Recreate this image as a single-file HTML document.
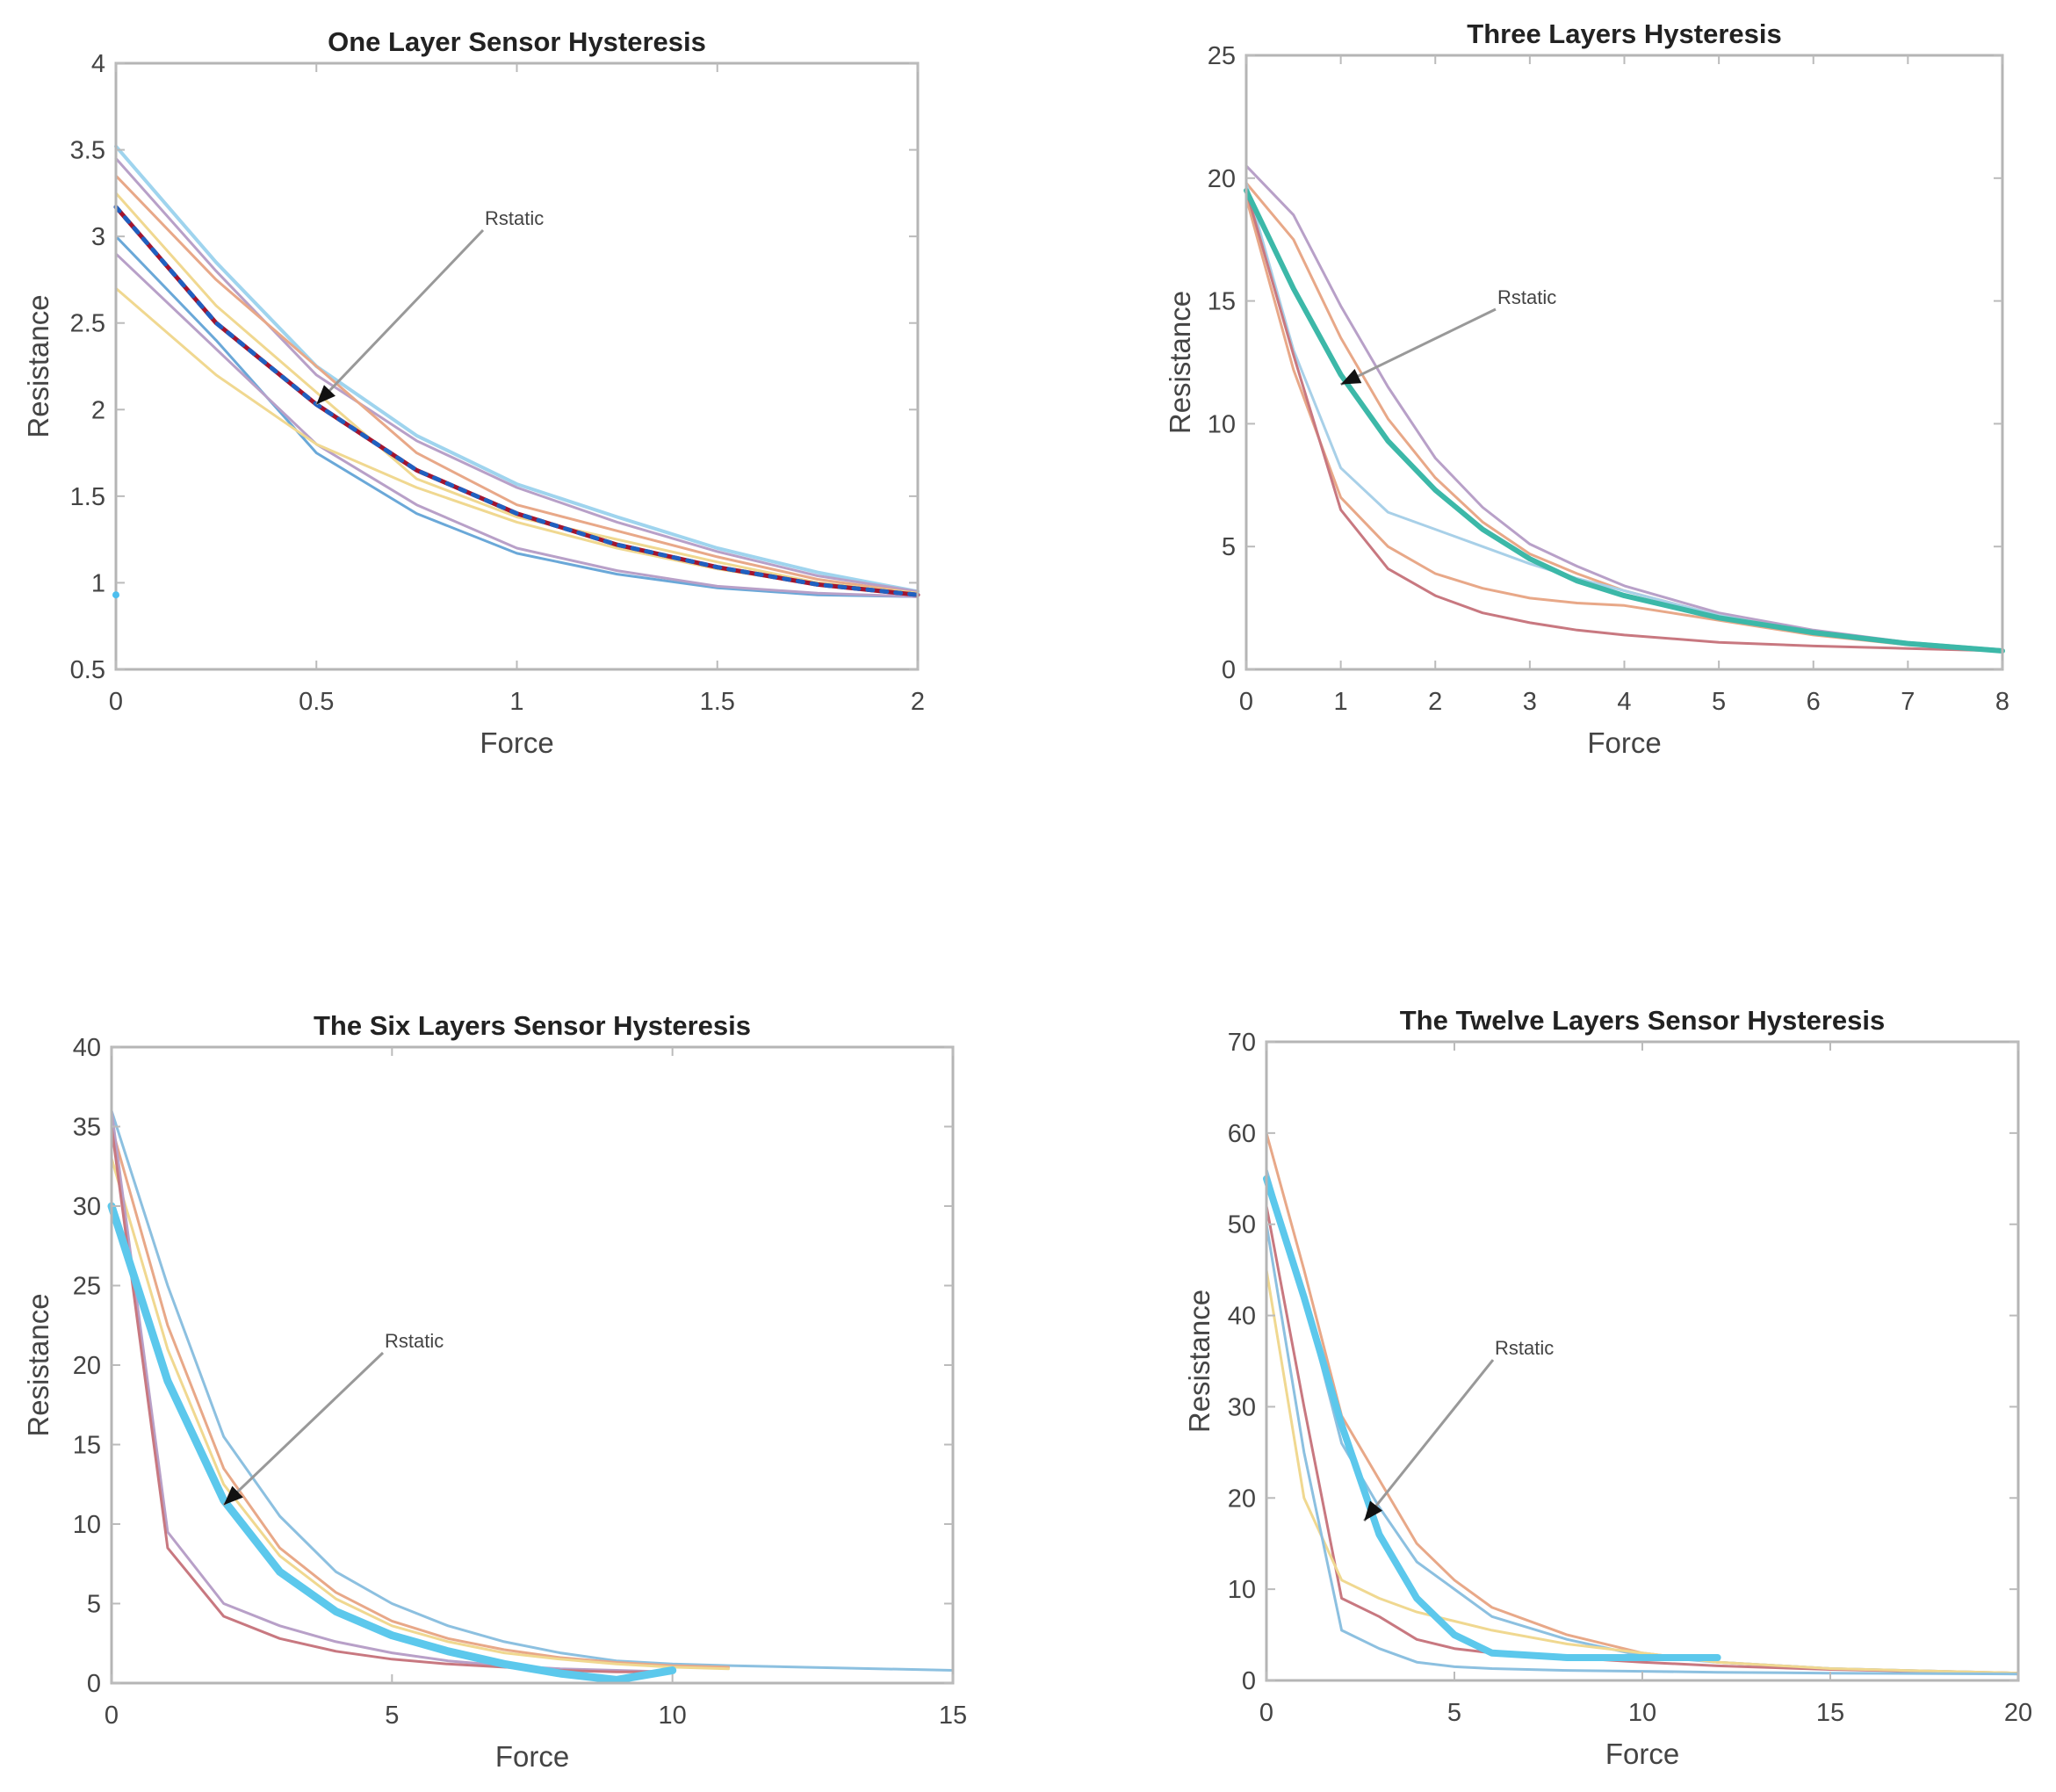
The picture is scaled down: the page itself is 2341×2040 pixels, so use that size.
<!DOCTYPE html>
<html><head><meta charset="utf-8">
<style>
html,body{margin:0;padding:0;background:#fff;}
svg{display:block;}
text{font-family:"Liberation Sans",Arial,sans-serif;}
</style></head>
<body>
<svg id="fig" width="2341" height="2040" viewBox="0 0 2341 2040" xmlns="http://www.w3.org/2000/svg"></svg>
<script>
// ---------- Panel 1 : One Layer ----------
const p1X = [0,0.25,0.5,0.75,1,1.25,1.5,1.75,2];
const p1Static = [3.17,2.5,2.03,1.65,1.4,1.22,1.09,0.99,0.93];
const p1Up1 = [3.52,2.85,2.25,1.85,1.57,1.38,1.2,1.06,0.95];
const p1Up2 = [3.45,2.8,2.2,1.82,1.55,1.35,1.18,1.04,0.95];
const p1Mid1 = [3.35,2.75,2.25,1.75,1.45,1.3,1.15,1.02,0.94];
const p1Mid2 = [3.25,2.6,2.1,1.6,1.38,1.25,1.12,1.0,0.94];
const p1Low1 = [3.0,2.4,1.75,1.4,1.17,1.05,0.97,0.93,0.92];
const p1Low2 = [2.9,2.35,1.8,1.45,1.2,1.07,0.98,0.94,0.92];
const p1Low3 = [2.7,2.2,1.8,1.55,1.35,1.2,1.08,0.99,0.93];
const p1XTicks = [0,0.5,1,1.5,2];
const p1XTickLabels = ["0","0.5","1","1.5","2"];
const p1YTicks = [0.5,1,1.5,2,2.5,3,3.5,4];
const p1YTickLabels = ["0.5","1","1.5","2","2.5","3","3.5","4"];

// ---------- Panel 2 : Three Layers ----------
const p2X = [0,0.5,1,1.5,2,2.5,3,3.5,4,5,6,7,8];
const p2Static = [19.5,15.5,12,9.3,7.3,5.7,4.5,3.6,3.0,2.1,1.5,1.05,0.75];
const p2Up1 = [20.5,18.5,14.8,11.5,8.6,6.6,5.1,4.2,3.4,2.3,1.6,1.1,0.8];
const p2Up2 = [19.8,17.5,13.5,10.2,7.8,6.0,4.7,3.9,3.2,2.2,1.5,1.05,0.8];
const p2Blue = [19.8,13,8.2,6.4,5.7,5.0,4.3,3.7,3.2,2.2,1.5,1.05,0.8];
const p2Orange = [19.2,12.2,7.0,5.0,3.9,3.3,2.9,2.7,2.6,2.0,1.4,1.0,0.8];
const p2Red = [19.5,12.8,6.5,4.1,3.0,2.3,1.9,1.6,1.4,1.1,0.95,0.85,0.75];
const p2XTicks = [0,1,2,3,4,5,6,7,8];
const p2XTickLabels = ["0","1","2","3","4","5","6","7","8"];
const p2YTicks = [0,5,10,15,20,25];
const p2YTickLabels = ["0","5","10","15","20","25"];

// ---------- Panel 3 : Six Layers ----------
const p3X = [0,1,2,3,4,5,6,7,8,9,10,11,15];
const p3Static = [30,19,11.5,7,4.5,3,2,1.2,0.6,0.2,0.8];
const p3Blue = [36,25,15.5,10.5,7,5,3.6,2.6,1.9,1.4,1.2,1.1,0.8];
const p3Orange = [35,22.5,13.5,8.5,5.7,3.9,2.8,2.1,1.6,1.3,1.1,1.0];
const p3Yellow = [33,21,12.5,8,5.3,3.6,2.6,1.9,1.5,1.2,1.0,0.9];
const p3Purple = [36,9.5,5,3.6,2.6,1.9,1.4,1.1,0.9,0.8,0.7];
const p3Red = [35,8.5,4.2,2.8,2.0,1.5,1.2,1.0,0.8,0.7,0.7];
const p3XTicks = [0,5,10,15];
const p3XTickLabels = ["0","5","10","15"];
const p3YTicks = [0,5,10,15,20,25,30,35,40];
const p3YTickLabels = ["0","5","10","15","20","25","30","35","40"];

// ---------- Panel 4 : Twelve Layers ----------
const p4X = [0,1,2,3,4,5,6,8,10,12,15,20];
const p4Static = [55,42,28,16,9,5,3,2.5,2.5,2.5];
const p4Orange = [60,45,29,22,15,11,8,5,3,2,1.3,0.8];
const p4Blue = [56,42,26,19,13,10,7,4.5,2.7,2,1.3,0.8];
const p4Purple = [52,30,9,7,4.5,3.5,3,2.5,2,1.6,1.2,0.8];
const p4Yellow = [45,20,11,9,7.5,6.5,5.5,4,3,2,1.3,0.8];
const p4Low = [50,25,5.5,3.5,2,1.5,1.3,1.1,1,0.9,0.8,0.7];
const p4XTicks = [0,5,10,15,20];
const p4XTickLabels = ["0","5","10","15","20"];
const p4YTicks = [0,10,20,30,40,50,60,70];
const p4YTickLabels = ["0","10","20","30","40","50","60","70"];

const NS = "http://www.w3.org/2000/svg";
const svg = document.getElementById('fig');
function mk(tag, attrs, parent){
  const e = document.createElementNS(NS, tag);
  for (const k in attrs) e.setAttribute(k, attrs[k]);
  (parent||svg).appendChild(e);
  return e;
}

function panel(cfg){
  const g = mk('g', {});
  
  
  const sx = v => cfg.L + (v - cfg.xmin)/(cfg.xmax - cfg.xmin)*(cfg.R - cfg.L);
  const sy = v => cfg.B - (v - cfg.ymin)/(cfg.ymax - cfg.ymin)*(cfg.B - cfg.T);
  // series
  cfg.series.forEach(s => {
    const n = Math.min(s.y.length, cfg.x.length);
    let d = '';
    for (let i=0;i<n;i++) d += (i?'L':'M') + sx(cfg.x[i]).toFixed(1) + ' ' + sy(s.y[i]).toFixed(1);
    const p = mk('path', {d:d, fill:'none', stroke:s.c, 'stroke-width':s.w, 'stroke-linejoin':'round', 'stroke-linecap':'round', opacity:s.o||1}, g);
    if (s.dash) p.setAttribute('stroke-dasharray', s.dash);
    
    
  });
  // axes box
  const box = mk('rect', {x:cfg.L, y:cfg.T, width:cfg.R-cfg.L, height:cfg.B-cfg.T, fill:'none', stroke:'#b5b5b5', 'stroke-width':3}, g);
  
  
  // x ticks
  cfg.xt.forEach((v,i) => {
    const x = sx(v);
    mk('line', {x1:x, y1:cfg.B, x2:x, y2:cfg.B-10, stroke:'#bbb', 'stroke-width':2}, g);
    mk('line', {x1:x, y1:cfg.T, x2:x, y2:cfg.T+10, stroke:'#bbb', 'stroke-width':2}, g);
    const t = mk('text', {x:x, y:cfg.B+46, 'font-size':29, fill:'#444', 'text-anchor':'middle'}, g);
    t.textContent = cfg.xtl[i];
    
    
  });
  cfg.yt.forEach((v,i) => {
    const y = sy(v);
    mk('line', {x1:cfg.L, y1:y, x2:cfg.L+10, y2:y, stroke:'#bbb', 'stroke-width':2}, g);
    mk('line', {x1:cfg.R, y1:y, x2:cfg.R-10, y2:y, stroke:'#bbb', 'stroke-width':2}, g);
    const t = mk('text', {x:cfg.L-12, y:y+10, 'font-size':29, fill:'#444', 'text-anchor':'end'}, g);
    t.textContent = cfg.ytl[i];
    
    
  });
  const tt = mk('text', {x:(cfg.L+cfg.R)/2, y:cfg.T-14, 'font-size':31, 'font-weight':'bold', fill:'#222', 'text-anchor':'middle'}, g);
  tt.textContent = cfg.title;
  
  
  const xl = mk('text', {x:(cfg.L+cfg.R)/2, y:cfg.B+95, 'font-size':33, fill:'#444', 'text-anchor':'middle'}, g);
  xl.textContent = 'Force';
  
  
  const yx = cfg.yLabelX, yy = (cfg.T+cfg.B)/2;
  const yl = mk('text', {x:yx, y:yy, 'font-size':33, fill:'#444', 'text-anchor':'middle', transform:'rotate(-90 '+yx+' '+yy+')'}, g);
  yl.textContent = 'Resistance';
  
  
  // annotation
  const a = cfg.ann;
  const ax = sx(a.tx), ay = sy(a.ty);
  const ln = mk('line', {x1:a.sx, y1:a.sy, x2:ax, y2:ay, stroke:'#999', 'stroke-width':3}, g);
  
  
  const ang = Math.atan2(ay-a.sy, ax-a.sx);
  const hl = 22, hw = 9;
  const bx = ax - hl*Math.cos(ang), by = ay - hl*Math.sin(ang);
  const px = -Math.sin(ang)*hw, py = Math.cos(ang)*hw;
  const head = mk('polygon', {points:`${ax},${ay} ${bx+px},${by+py} ${bx-px},${by-py}`, fill:'#111'}, g);
  
  
  const at = mk('text', {x:a.sx+2, y:a.sy-6, 'font-size':22, fill:'#444'}, g);
  at.textContent = 'Rstatic';
  
  
  return {sx, sy, g};
}

const c = {blue:'#6aa8d8', orange:'#e8a888', yellow:'#f0d890', purple:'#b8a0c8', green:'#9cc870', cyan:'#5cc8ec', red:'#c87880'};

const P1 = panel({name:'one-layer-chart', title:'One Layer Sensor Hysteresis', L:132,R:1045,T:72,B:762,
  xmin:0,xmax:2,ymin:0.5,ymax:4, x:p1X, xt:p1XTicks, xtl:p1XTickLabels, yt:p1YTicks, ytl:p1YTickLabels, yLabelX:55,
  ann:{sx:550,sy:262,tx:0.5,ty:2.03},
  series:[
    {y:p1Up1,c:'#9fd4ee',w:4,n:'series-upper-1'},
    {y:p1Up2,c:c.purple,w:3,n:'series-upper-2'},
    {y:p1Mid1,c:c.orange,w:3,n:'series-mid-1'},
    {y:p1Mid2,c:c.yellow,w:3,n:'series-mid-2'},
    {y:p1Low1,c:c.blue,w:3,n:'series-lower-1'},
    {y:p1Low2,c:c.purple,w:3,n:'series-lower-2'},
    {y:p1Low3,c:c.yellow,w:3,n:'series-lower-3'},
    {y:p1Static,c:'#a2142f',w:5,n:'rstatic-line'},
    {y:p1Static,c:'#2060c0',w:5,dash:'6 10',n:'rstatic-dashed'}
  ]});
const dot = mk('circle',{cx:P1.sx(0),cy:P1.sy(0.93),r:4,fill:'#4dbeee'});



panel({name:'three-layers-chart', title:'Three Layers Hysteresis', L:1419,R:2280,T:63,B:762,
  xmin:0,xmax:8,ymin:0,ymax:25, x:p2X, xt:p2XTicks, xtl:p2XTickLabels, yt:p2YTicks, ytl:p2YTickLabels, yLabelX:1355,
  ann:{sx:1703,sy:352,tx:1.0,ty:11.6},
  series:[
    {y:p2Up1,c:c.purple,w:3,n:'series-upper-1'},
    {y:p2Up2,c:c.orange,w:3,n:'series-upper-2'},
    {y:p2Blue,c:'#a8d0e8',w:3,n:'series-blue'},
    {y:p2Orange,c:c.orange,w:3,n:'series-orange'},
    {y:p2Red,c:c.red,w:3,n:'series-red'},
    {y:p2Static,c:'#3cb8a8',w:6,n:'rstatic-line'}
  ]});

panel({name:'six-layers-chart', title:'The Six Layers Sensor Hysteresis', L:127,R:1085,T:1192,B:1916,
  xmin:0,xmax:15,ymin:0,ymax:40, x:p3X, xt:p3XTicks, xtl:p3XTickLabels, yt:p3YTicks, ytl:p3YTickLabels, yLabelX:55,
  ann:{sx:436,sy:1540,tx:2,ty:11.2},
  series:[
    {y:p3Blue,c:'#8cc0e0',w:3,n:'series-blue'},
    {y:p3Orange,c:c.orange,w:3,n:'series-orange'},
    {y:p3Yellow,c:c.yellow,w:3,n:'series-yellow'},
    {y:p3Purple,c:c.purple,w:3,n:'series-purple'},
    {y:p3Red,c:c.red,w:3,n:'series-red'},
    {y:p3Static,c:c.cyan,w:9,n:'rstatic-line'}
  ]});

panel({name:'twelve-layers-chart', title:'The Twelve Layers Sensor Hysteresis', L:1442,R:2298,T:1186,B:1913,
  xmin:0,xmax:20,ymin:0,ymax:70, x:p4X, xt:p4XTicks, xtl:p4XTickLabels, yt:p4YTicks, ytl:p4YTickLabels, yLabelX:1377,
  ann:{sx:1700,sy:1548,tx:2.6,ty:17.5},
  series:[
    {y:p4Orange,c:c.orange,w:3,n:'series-orange'},
    {y:p4Blue,c:'#8cc0e0',w:3,n:'series-blue'},
    {y:p4Purple,c:c.red,w:3,n:'series-purple'},
    {y:p4Yellow,c:c.yellow,w:3,n:'series-yellow'},
    {y:p4Low,c:'#8cc0e0',w:3,n:'series-lower'},
    {y:p4Static,c:c.cyan,w:8,n:'rstatic-line'}
  ]});
</script>
</body></html>
